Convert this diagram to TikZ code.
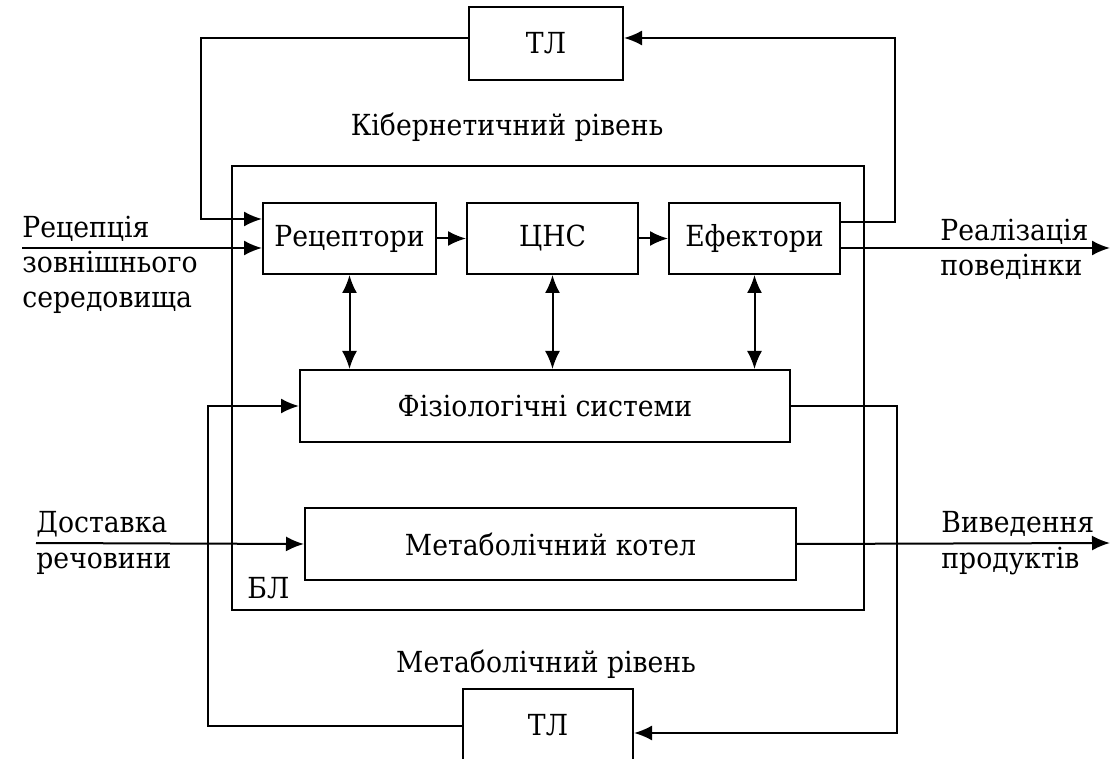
\documentclass[tikz,border=0pt]{standalone}
\usepackage{fontspec}
\setmainfont{DejaVu Serif}[FakeStretch=0.92]
\usetikzlibrary{positioning,arrows.meta}

\begin{document}
\begin{tikzpicture}[x=0.5pt, y=-0.5pt,
	txt/.style={font=\fontsize{14.5}{17}\selectfont},
	box/.style={rectangle, draw, line width=1pt, minimum height=35.5pt, txt},
	lbl/.style={inner sep=0pt, anchor=base west, txt},
	ln/.style={line width=1pt},
	arr/.style={ln, -{Latex[length=9pt, width=7.5pt]}},
	darr/.style={ln, {Latex[length=9pt, width=7.5pt]}-{Latex[length=9pt, width=7.5pt]}}]

	\clip (0,0) rectangle (1110,759);

	%%% Biological level %%%

	\node[box, minimum width=316pt, minimum height=222pt] (bl) at (548,388) {};
	\node[lbl] (blt) at (247,598) {БЛ};

	\node[box, minimum width=86.5pt] (rec) at (349.5,238.5) {Рецептори};
	\node[box, minimum width=85.5pt, right=14.5pt of rec] (cns) {ЦНС};
	\node[box, minimum width=85.5pt, right=14.5pt of cns] (eff) {Ефектори};

	\node[box, minimum width=245pt, minimum height=36pt] (fiz) at (545,406) {Фізіологічні системи};
	\node[box, minimum width=245.5pt, minimum height=36pt] (kot) at (550.5,544) {Метаболічний котел};

	\draw[arr] (rec) -- (cns);
	\draw[arr] (cns) -- (eff);
	\draw[darr] (rec.south) -- (rec.south |- fiz.north);
	\draw[darr] (cns.south) -- (cns.south |- fiz.north);
	\draw[darr] (eff.south) -- (eff.south |- fiz.north);

	%%% Cybernetic level %%%

	\node[box, minimum width=77pt, minimum height=36.5pt] (tlt) at (546,43.5) {ТЛ};
	\node[txt, anchor=base] (kib) at (507,136) {Кібернетичний рівень};

	\coordinate (ktl) at (201,38);
	\coordinate (ktr) at (895,38);
	\draw[arr] ([yshift=2.75pt]tlt.west) -- (ktl) |- ([yshift=9.75pt]rec.west);
	\draw[arr] ([yshift=8pt]eff.east) -| (ktr) -- ([yshift=2.75pt]tlt.east);

	\coordinate (in1) at (22,248);
	\coordinate (out1) at (1110,248);
	\draw[arr] (in1) -- ([yshift=-4.75pt]rec.west);
	\draw[arr] ([yshift=-4.75pt]eff.east) -- (out1);

	\node[lbl] (rc1) at (22,238) {Рецепція};
	\node[lbl] (rc2) at (22,273) {зовнішнього};
	\node[lbl] (rc3) at (22,308) {середовища};
	\node[lbl] (rz1) at (940,241) {Реалізація};
	\node[lbl] (rz2) at (940,276) {поведінки};

	%%% Metabolic level %%%

	\node[box, minimum width=85pt, minimum height=36.5pt] (tlb) at (548,725.5) {ТЛ};
	\node[txt, anchor=base] (met) at (546,672) {Метаболічний рівень};

	\coordinate (kbl) at (208,406);
	\coordinate (kbr) at (897,733);
	\draw[arr] (tlb.west) -| (kbl) -- (fiz.west);
	\draw[arr] (fiz.east) -| (kbr) -- ([yshift=-3.75pt]tlb.east);

	\coordinate (in2) at (36,543);
	\coordinate (out2) at (1110,543);
	\draw[arr] (in2) -- (kot.west);
	\draw[arr] (kot.east) -- (out2);

	\node[lbl] (ds1) at (36,533) {Доставка};
	\node[lbl] (ds2) at (36,568) {речовини};
	\node[lbl] (vv1) at (941,533) {Виведення};
	\node[lbl] (vv2) at (941,568) {продуктів};

\end{tikzpicture}
\end{document}
